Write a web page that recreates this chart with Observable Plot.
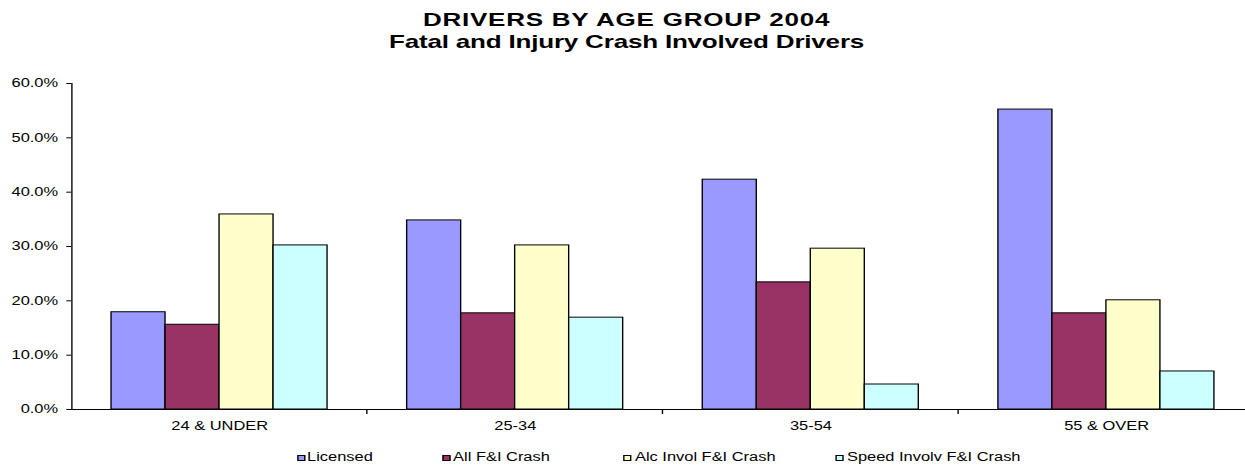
<!DOCTYPE html>
<html><head><meta charset="utf-8">
<script src="https://cdn.jsdelivr.net/npm/d3@7"></script>
<script src="https://cdn.jsdelivr.net/npm/@observablehq/plot@0.6"></script>
<style>
html,body{margin:0;padding:0;background:#fff;}
body{width:1245px;height:466px;overflow:hidden;font-family:"Liberation Sans",Arial,sans-serif;position:relative;}
#wrap{position:absolute;left:0;top:0;width:909px;height:466px;transform:scaleX(1.3696);transform-origin:0 0;}
#title{position:absolute;top:9px;left:3px;width:909px;text-align:center;font-weight:bold;font-size:19px;line-height:21.5px;color:#000;}
#t1{letter-spacing:0.55px;}
#t2{letter-spacing:-0.15px;}
#chart{position:absolute;top:60px;left:0;}
#legend{position:absolute;top:450px;left:0;width:909px;height:16px;font-size:12px;line-height:14px;color:#000;}
.item{position:absolute;top:0;white-space:nowrap;}
.sw{position:absolute;top:5px;width:4px;height:4px;border:1px solid #000;}
</style>
</head><body>
<div id="wrap">
  <div id="title"><div id="t1">DRIVERS BY AGE GROUP 2004</div><div id="t2">Fatal and Injury Crash Involved Drivers</div></div>
  <div id="chart"></div>
  <div id="legend"></div>
</div>
<script>
const groups = ["24 & UNDER", "25-34", "35-54", "55 & OVER"];
const series = ["Licensed", "All F&I Crash", "Alc Invol F&I Crash", "Speed Involv F&I Crash"];
const licensed = [17.9, 34.8, 42.3, 55.2];
const allCrash = [15.6, 17.7, 23.4, 17.7];
const alcCrash = [35.9, 30.2, 29.6, 20.1];
const speedCrash = [30.2, 16.9, 4.6, 7.0];
const colors = ["#9999FF", "#993366", "#FFFFCC", "#CCFFFF"];
const yTicks = [0, 10, 20, 30, 40, 50, 60];
const legendSquareX = [216.9, 322.7, 454.9, 610.4];
const legendTextX = [224.2, 330.8, 463.6, 618.4];

const seriesValues = [licensed, allCrash, alcCrash, speedCrash];
const data = [];
groups.forEach((g, gi) => series.forEach((s, si) => data.push({group: g, series: s, value: seriesValues[si][gi]})));

const chart = Plot.plot({
  width: 909, height: 380,
  marginLeft: 52, marginRight: -6.4, marginTop: 23, marginBottom: 31,
  style: {fontFamily: '"Liberation Sans", Arial, sans-serif', fontSize: "12px", color: "#000", background: "transparent", overflow: "visible"},
  fx: {domain: groups, padding: 0, round: false, label: null, tickSize: 0, tickPadding: 12},
  x: {domain: series, paddingInner: 0, paddingOuter: 0.737, round: false, axis: null},
  y: {domain: [0, 60], ticks: yTicks, tickFormat: d => d.toFixed(1) + "%", label: null, line: true, tickSize: 3.6, tickPadding: 6.5},
  color: {domain: series, range: colors},
  marks: [
    Plot.barY(data, {fx: "group", x: "series", y: "value", fill: "series", stroke: "#000", strokeWidth: 1, inset: 0}),
    Plot.ruleY([0], {stroke: "#000", strokeWidth: 1})
  ]
});

// boundary ticks between categories on the x axis
const fxs = chart.scale("fx");
const ys = chart.scale("y");
const y0 = ys.apply(0);
const svg = d3.select(chart.tagName === "svg" ? chart : chart.querySelector("svg"));
groups.slice(1).forEach(g => {
  const x = fxs.apply(g);
  svg.append("line").attr("x1", x).attr("x2", x).attr("y1", y0).attr("y2", y0 + 5)
    .attr("stroke", "#000").attr("stroke-width", 1);
});
document.getElementById("chart").appendChild(chart);

const legend = document.getElementById("legend");
series.forEach((s, i) => {
  const sw = document.createElement("div");
  sw.className = "sw";
  sw.style.left = legendSquareX[i] + "px";
  sw.style.background = colors[i];
  legend.appendChild(sw);
  const t = document.createElement("div");
  t.className = "item";
  t.style.left = legendTextX[i] + "px";
  t.textContent = s;
  legend.appendChild(t);
});
</script>
</body></html>
